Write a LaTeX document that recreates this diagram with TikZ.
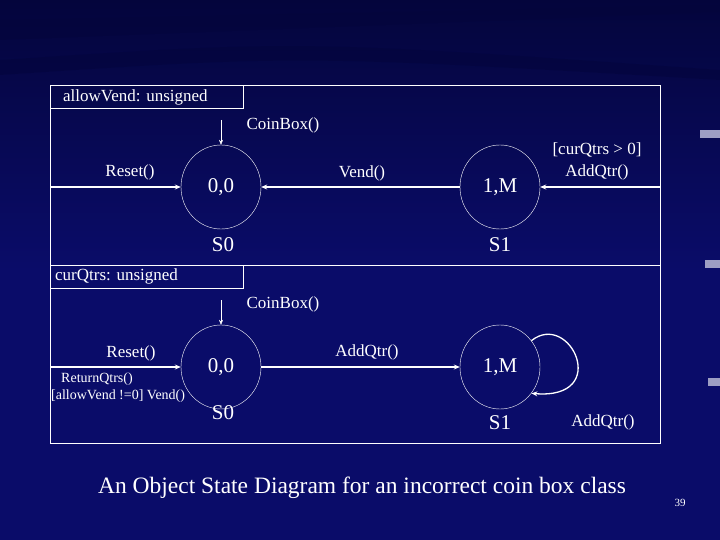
\documentclass[tikz,border=0pt]{standalone}
\usepackage{fontspec}
\setmainfont{Liberation Serif}
\usetikzlibrary{arrows.meta,shapes.geometric}
\definecolor{bg}{RGB}{10,12,105}
\definecolor{bgd}{RGB}{4,5,60}
\begin{document}
\begin{tikzpicture}[x=1pt,y=-1pt,
  lab/.style={text=white,font=\fontsize{17}{19}\selectfont,inner sep=1pt},
  small/.style={text=white,font=\fontsize{14}{15}\selectfont,inner sep=1pt,anchor=west},
  st/.style={draw=white,ellipse,minimum width=80pt,minimum height=84pt,text=white,font=\fontsize{21}{23}\selectfont},
  conn/.style={draw=white,line width=1.3pt,-{Stealth[length=6pt,width=5pt]}},
  frame/.style={draw=white,line width=0.8pt}]
\useasboundingbox (0,0) rectangle (720,540);
\shade[top color=bgd,bottom color=bg,middle color=bg] (0,0) rectangle (720,540);
\fill[bgd,opacity=0.6] (0,20) -- (720,5) -- (720,12) -- (0,40) -- cycle;
\fill[bgd,opacity=0.5] (0,60) .. controls (300,40) .. (720,70) -- (720,80) .. controls (300,55) .. (0,75) -- cycle;
\fill[white!60!bg] (700,130) rectangle (720,138);
\fill[white!60!bg] (705,260) rectangle (720,268);
\fill[white!60!bg] (708,378) rectangle (720,386);
% frames
\draw[frame] (50,85) rectangle (660,443);
\draw[frame] (50,265) -- (660,265);
\draw[frame] (50,85) rectangle (243,108);
\draw[frame] (50,265) rectangle (243,288);
\node[lab,anchor=west] (t1) at (62,97) {allowVend: unsigned};
\node[lab,anchor=west] (t2) at (54,276) {curQtrs: unsigned};
% top
\node[st] (a0) at (221,187) {0,0};
\node[st] (a1) at (500,187) {1,M};
\coordinate (ra) at (50,187);
\coordinate (rb) at (660,187);
\coordinate (ca) at (221,120);
\draw[conn] (ra) -- (a0.west);
\draw[conn] (a1.west) -- (a0.east);
\draw[conn] (rb) -- (a1.east);
\draw[white,-{Stealth[length=5pt,width=4pt]}] (ca) -- (a0.north);
\node[lab] (l1) at (130,172) {Reset()};
\node[lab] (l2) at (362,173) {Vend()};
\node[lab] (l3) at (597,150) {[curQtrs > 0]};
\node[lab] (l4) at (597,172) {AddQtr()};
\node[lab] (l5) at (283,125) {CoinBox()};
\node[lab,font=\fontsize{21}{23}\selectfont] (s0) at (223,245) {S0};
\node[lab,font=\fontsize{21}{23}\selectfont] (s1) at (500,245) {S1};
% bottom
\node[st] (b0) at (221,367) {0,0};
\node[st] (b1) at (500,367) {1,M};
\coordinate (rc) at (50,367);
\coordinate (cb) at (221,300);
\draw[conn] (rc) -- (b0.west);
\draw[conn] (b0.east) -- (b1.west);
\draw[white,-{Stealth[length=5pt,width=4pt]}] (cb) -- (b0.north);
\draw[conn] (b1.40) .. controls (570,310) and (612,400) .. (b1.-40);
\node[lab] (m1) at (131,353) {Reset()};
\node[lab] (m2) at (367,352) {AddQtr()};
\node[lab] (m3) at (283,304) {CoinBox()};
\node[small] (m4) at (60,379) {ReturnQtrs()};
\node[small] (m5) at (50,396) {[allowVend !=0] Vend()};
\node[lab] (m6) at (603,422) {AddQtr()};
\node[lab,font=\fontsize{21}{23}\selectfont] (s2) at (223,413) {S0};
\node[lab,font=\fontsize{21}{23}\selectfont] (s3) at (500,423) {S1};
\node[lab,font=\fontsize{23.5}{26}\selectfont] (title) at (362,488) {An Object State Diagram for an incorrect coin box class};
\node[lab,font=\fontsize{11}{12}\selectfont] (pg) at (680,503) {39};
\end{tikzpicture}
\end{document}
